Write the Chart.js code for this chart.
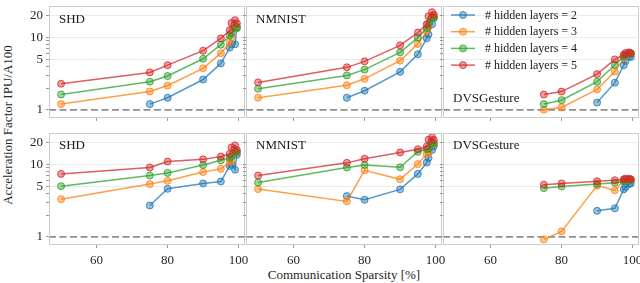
<!DOCTYPE html>
<html>
<head>
<meta charset="utf-8">
<script src="https://cdn.jsdelivr.net/npm/chart.js@4/dist/chart.umd.min.js"></script>
<style>
  body { margin: 0; width: 640px; height: 283px; position: relative; overflow: hidden; background: #fff;
         font-family: "Liberation Serif", "DejaVu Serif", serif; color: #262626; }
  .panel { position: absolute; }
  .axis-label { position: absolute; font-size: 13px; white-space: nowrap; }
</style>
</head>
<body>
<div class="axis-label" style="left:8px;top:125px;transform:translate(-50%,-50%) rotate(-90deg)">Acceleration Factor IPU/A100</div>
<div class="axis-label" style="left:344px;top:275px;transform:translate(-50%,-50%)">Communication Sparsity [%]</div>

<script>
// x positions shared by all curves
const sparsity = [50, 75, 80, 90, 95, 97.5, 98, 99, 99.5];
const layerCounts = [2, 3, 4, 5];
const xTicks = [60, 80, 100];
const yTicks = [1, 2, 3, 4, 5, 6, 7, 8, 9, 10, 20];
const yTickLabels = [1, 5, 10, 20];

// top row
const shdTopL2 = [null, 1.2, 1.47, 2.63, 4.4, 7.3, 8.1, 8.1, 13.5];
const shdTopL3 = [1.2, 1.8, 2.17, 3.76, 6.1, 8.5, 10.2, 13.5, 14.3];
const shdTopL4 = [1.63, 2.45, 2.94, 5.1, 8.0, 10.8, 11.5, 14.0, 13.9];
const shdTopL5 = [2.3, 3.3, 4.16, 6.6, 9.8, 12.7, 16.0, 17.5, 15.8];

const nmnistTopL2 = [null, 1.47, 1.84, 3.36, 5.9, 9.8, 11.1, 15.3, 18.8];
const nmnistTopL3 = [1.47, 2.19, 2.69, 4.8, 8.2, 12.3, 14.1, 18.4, 19.5];
const nmnistTopL4 = [1.96, 3.0, 3.61, 6.26, 10.0, 13.6, 15.7, 18.8, 18.8];
const nmnistTopL5 = [2.4, 3.88, 4.7, 7.83, 11.8, 15.3, 19.8, 22.6, 20.8];

const dvsTopL2 = [null, null, null, 1.26, 2.38, 4.16, 4.75, 5.5, 5.4];
const dvsTopL3 = [null, 1.0, 1.08, 1.92, 3.4, 5.26, 5.7, 6.1, 6.0];
const dvsTopL4 = [null, 1.2, 1.36, 2.45, 4.21, 5.5, 5.8, 6.0, 6.0];
const dvsTopL5 = [null, 1.63, 1.79, 3.13, 5.0, 5.82, 6.13, 6.26, 6.1];

// bottom row
const shdBotL2 = [null, 2.72, 4.63, 5.5, 5.85, 9.6, 10.1, 8.5, 13.7];
const shdBotL3 = [3.32, 5.39, 5.97, 7.92, 8.75, 10.9, 11.5, 14.8, 15.0];
const shdBotL4 = [5.03, 7.08, 7.69, 9.9, 11.5, 12.4, 13.1, 15.1, 14.8];
const shdBotL5 = [7.45, 9.13, 11.05, 11.85, 12.97, 14.1, 17.3, 18.5, 16.0];

const nmnistBotL2 = [null, 3.68, 3.26, 4.55, 7.45, 10.7, 12.4, 16.0, 18.1];
const nmnistBotL3 = [4.59, 3.1, 8.34, 6.27, 10.2, 14.1, 14.8, 19.1, 19.6];
const nmnistBotL4 = [5.67, 9.13, 9.9, 9.2, 15.1, 16.4, 16.7, 20.1, 19.6];
const nmnistBotL5 = [7.08, 10.6, 12.1, 14.8, 16.4, 17.8, 22.2, 24.1, 22.0];

const dvsBotL2 = [null, null, null, 2.29, 2.48, 4.55, 4.88, 5.39, 5.5];
const dvsBotL3 = [null, 0.92, 1.19, 5.13, 4.41, 5.97, 6.1, 6.2, 6.2];
const dvsBotL4 = [null, 4.73, 4.98, 5.39, 5.62, 5.85, 5.95, 6.1, 6.1];
const dvsBotL5 = [null, 5.29, 5.5, 5.9, 6.08, 6.27, 6.4, 6.4, 6.27];

const colors = ['31,119,180', '255,127,14', '44,160,44', '214,39,40'];

Chart.defaults.font.family = '"Liberation Serif", "DejaVu Serif", serif';
Chart.defaults.font.size = 13;
Chart.defaults.color = '#262626';

// panel geometry (page pixels)
const colLeft = [49, 246, 443];
const rowTop = [1, 128];
const panelW = 196;
const panelH = 117;
const padRight = 10;

// frame, y=1 reference line, panel name and (optionally) legend
const framePlugin = {
  id: 'frame',
  beforeDatasetsDraw(chart) {
    const { ctx, chartArea: a, scales: { y } } = chart;
    const py = y.getPixelForValue(1);
    ctx.save();
    ctx.strokeStyle = '#8f8f8f';
    ctx.lineWidth = 1.8;
    ctx.setLineDash([7, 3.5]);
    ctx.beginPath();
    ctx.moveTo(a.left, py);
    ctx.lineTo(a.right, py);
    ctx.stroke();
    ctx.restore();
  },
  afterDraw(chart, args, opts) {
    const { ctx, chartArea: a } = chart;
    ctx.save();
    ctx.strokeStyle = '#cccccc';
    ctx.lineWidth = 1;
    ctx.strokeRect(a.left + 0.5, a.top + 0.5, a.right - a.left - 1, a.bottom - a.top - 1);

    ctx.fillStyle = '#1a1a1a';
    ctx.font = '13px "Liberation Serif", serif';
    ctx.textBaseline = 'alphabetic';
    ctx.fillText(opts.title, a.left + 10, a.top + opts.titleY);

    if (opts.legend) {
      ctx.font = '12px "Liberation Serif", serif';
      ctx.textBaseline = 'middle';
      chart.data.datasets.forEach((ds, i) => {
        const yy = a.top + 9 + i * 16.7;
        ctx.strokeStyle = ds.borderColor;
        ctx.lineWidth = 1.5;
        ctx.beginPath();
        ctx.moveTo(a.left + 8, yy);
        ctx.lineTo(a.left + 32, yy);
        ctx.stroke();
        ctx.beginPath();
        ctx.arc(a.left + 20, yy, 3.5, 0, Math.PI * 2);
        ctx.fillStyle = ds.pointBackgroundColor;
        ctx.fill();
        ctx.strokeStyle = ds.pointBorderColor;
        ctx.lineWidth = 1;
        ctx.stroke();
        ctx.fillStyle = '#1a1a1a';
        ctx.fillText(ds.label, a.left + 42, yy + 0.5);
      });
    }
    ctx.restore();
  }
};

function makePanel(row, col, title, series, titleY, legend) {
  const yw = col === 0 ? 48 : 6;
  const xh = row === 1 ? 30 : 6;
  const box = document.createElement('div');
  box.className = 'panel';
  box.style.left = (colLeft[col] - yw) + 'px';
  box.style.top = rowTop[row] + 'px';
  box.style.width = (yw + panelW + padRight) + 'px';
  box.style.height = (panelH + xh) + 'px';
  const canvas = document.createElement('canvas');
  box.appendChild(canvas);
  document.body.appendChild(box);

  const datasets = series.map((vals, i) => ({
    label: '# hidden layers = ' + layerCounts[i],
    data: sparsity.map((x, j) => ({ x, y: vals[j] })).filter(p => p.y !== null),
    borderColor: `rgba(${colors[i]},0.75)`,
    backgroundColor: `rgba(${colors[i]},0.45)`,
    pointBackgroundColor: `rgba(${colors[i]},0.45)`,
    pointBorderColor: `rgba(${colors[i]},0.8)`,
    pointRadius: 3.5,
    pointBorderWidth: 1,
    borderWidth: 1.5,
    order: 3 - i
  }));

  new Chart(canvas, {
    type: 'line',
    data: { datasets },
    options: {
      responsive: true,
      maintainAspectRatio: false,
      animation: false,
      layout: { padding: { left: 0, top: 0, right: padRight, bottom: 0 } },
      plugins: {
        legend: { display: false },
        tooltip: { enabled: false },
        frame: { title, titleY, legend }
      },
      scales: {
        x: {
          type: 'linear',
          min: 46.6,
          max: 101.8,
          afterBuildTicks: axis => { axis.ticks = xTicks.map(v => ({ value: v })); },
          afterFit: s => { s.height = xh; s.paddingLeft = 0; s.paddingRight = 0; },
          ticks: { display: row === 1, padding: 5, autoSkip: false, maxRotation: 0,
                   callback: v => String(v) },
          grid: { drawOnChartArea: false, drawTicks: true, tickLength: 3, tickColor: '#9a9a9a' },
          border: { display: false }
        },
        y: {
          type: 'logarithmic',
          min: 0.77,
          max: 27.5,
          afterBuildTicks: axis => { axis.ticks = yTicks.map(v => ({ value: v })); },
          afterFit: s => { s.width = yw; s.paddingTop = 0; s.paddingBottom = 0; },
          ticks: { display: col === 0, padding: 3, autoSkip: false,
                   callback: v => yTickLabels.includes(v) ? String(v) : '' },
          grid: {
            color: c => (c.tick && yTickLabels.includes(c.tick.value) && c.tick.value !== 1) ? '#ebebeb' : 'rgba(0,0,0,0)',
            lineWidth: 1,
            drawTicks: true,
            tickLength: 3,
            tickColor: '#9a9a9a'
          },
          border: { display: false }
        }
      }
    },
    plugins: [framePlugin]
  });
}

makePanel(0, 0, 'SHD', [shdTopL2, shdTopL3, shdTopL4, shdTopL5], 16.5, false);
makePanel(0, 1, 'NMNIST', [nmnistTopL2, nmnistTopL3, nmnistTopL4, nmnistTopL5], 16.5, false);
makePanel(0, 2, 'DVSGesture', [dvsTopL2, dvsTopL3, dvsTopL4, dvsTopL5], 95.5, true);
makePanel(1, 0, 'SHD', [shdBotL2, shdBotL3, shdBotL4, shdBotL5], 16, false);
makePanel(1, 1, 'NMNIST', [nmnistBotL2, nmnistBotL3, nmnistBotL4, nmnistBotL5], 16, false);
makePanel(1, 2, 'DVSGesture', [dvsBotL2, dvsBotL3, dvsBotL4, dvsBotL5], 16, false);
</script>
</body>
</html>
